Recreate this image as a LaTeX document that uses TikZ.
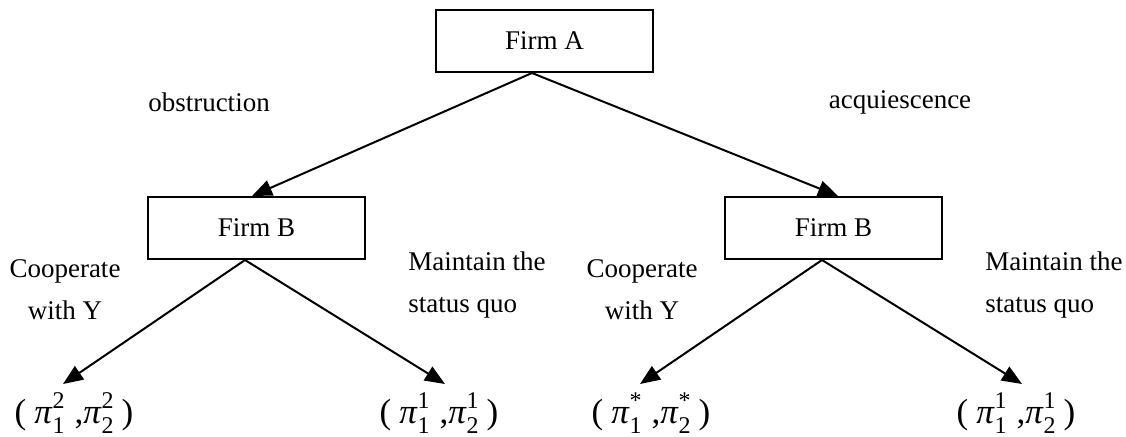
\documentclass[tikz,border=0pt]{standalone}
\usepackage{fontspec}
\setmainfont{Liberation Serif}
\usetikzlibrary{arrows.meta}
\newcommand\piss[2]{\textit{π}\makebox[0pt][l]{\raisebox{7.5pt}{\fontsize{12}{12}\selectfont#1}}\raisebox{-5pt}{\fontsize{12}{12}\selectfont#2}}
\newcommand\payoff[2]{(\hspace{4pt}#1\hspace{5pt},#2\hspace{4pt})}
\begin{document}
\begin{tikzpicture}[x=0.5pt,y=-0.5pt,
  firm/.style={draw, line width=1pt, minimum width=108.5pt, minimum height=31pt, inner sep=0pt, font=\fontsize{13.5}{16}\selectfont},
  lbl/.style={inner sep=0pt, font=\fontsize{13.5}{21}\selectfont},
  leaf/.style={inner sep=0pt, anchor=base, font=\fontsize{17.5}{20}\selectfont},
  arr/.style={line width=1pt, -{Triangle[length=10pt,width=8pt]}}]
\useasboundingbox (0,0) rectangle (1126,436);
\node[firm] (fa) at (544.5,41) {Firm A};
\node[firm] (bl) at (256.5,228) {Firm B};
\node[firm] (br) at (833.5,228) {Firm B};
\node[lbl] (ob) at (209,102) {obstruction};
\node[lbl] (aq) at (900,102) {acquiescence};
\node[lbl, align=center] (c1) at (65,289.5) {Cooperate\\with Y};
\node[lbl, align=left, anchor=west] (m1) at (408,285) {Maintain the\\status quo};
\node[lbl, align=center] (c2) at (642,289.5) {Cooperate\\with Y};
\node[lbl, align=left, anchor=west] (m2) at (985,285) {Maintain the\\status quo};
\node[leaf] (l1) at (74,423) {\payoff{\piss{2}{1}}{\piss{2}{2}}};
\node[leaf] (l2) at (439,423) {\payoff{\piss{1}{1}}{\piss{1}{2}}};
\node[leaf] (l3) at (651,423) {\payoff{\piss{*}{1}}{\piss{*}{2}}};
\node[leaf] (l4) at (1016,423) {\payoff{\piss{1}{1}}{\piss{1}{2}}};
\coordinate (t1) at (63,384);
\coordinate (t2) at (445,384);
\coordinate (t3) at (640,384);
\coordinate (t4) at (1022,384);
\draw[arr] ([xshift=-6.25pt]fa.south) -- ([xshift=-2.25pt]bl.north);
\draw[arr] ([xshift=-6.25pt]fa.south) -- ([xshift=2.25pt]br.north);
\draw[arr] ([xshift=-5.75pt]bl.south) -- (t1);
\draw[arr] ([xshift=-5.75pt]bl.south) -- (t2);
\draw[arr] ([xshift=-5.75pt]br.south) -- (t3);
\draw[arr] ([xshift=-5.75pt]br.south) -- (t4);
\end{tikzpicture}
\end{document}
